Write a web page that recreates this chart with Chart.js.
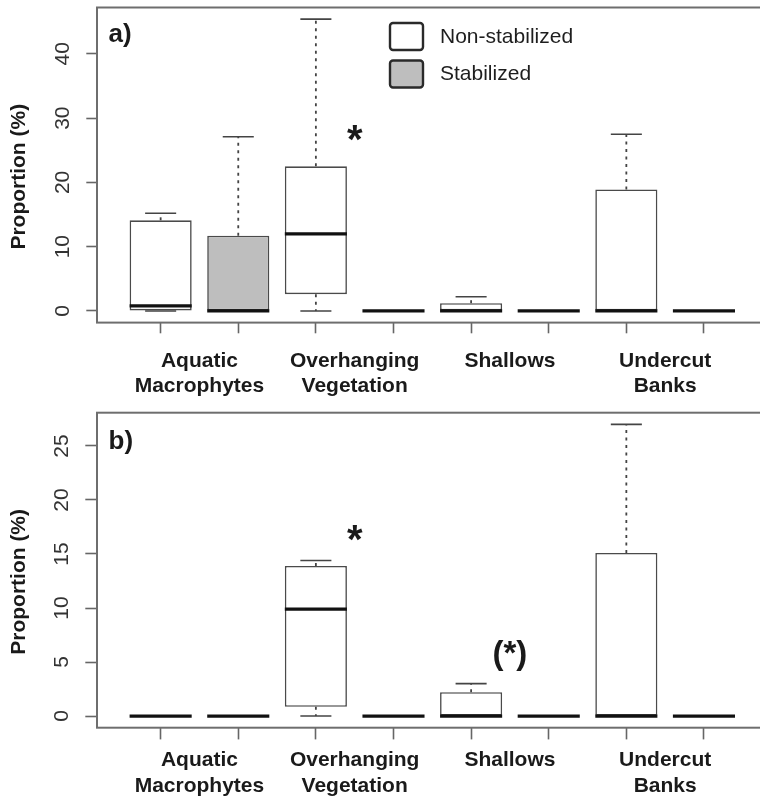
<!DOCTYPE html>
<html>
<head>
<meta charset="utf-8">
<title>Proportion of habitat types</title>
<script src="https://cdn.jsdelivr.net/npm/chart.js@4.4.1/dist/chart.umd.min.js"></script>
<style>
  html, body { margin: 0; padding: 0; background: #fff; width: 760px; height: 799px; overflow: hidden; }
  .panel { position: absolute; left: 0; }
  canvas { display: block; }
</style>
</head>
<body>
<div class="panel" style="top:0"><canvas id="panelA" width="780" height="400"></canvas></div>
<div class="panel" style="top:400px"><canvas id="panelB" width="780" height="399"></canvas></div>
<script>
const FONT = "'Liberation Sans', Arial, Helvetica, sans-serif";

// Habitat categories (two-line axis labels) and the two bank treatments
const habitats = [['Aquatic', 'Macrophytes'], ['Overhanging', 'Vegetation'], ['Shallows'], ['Undercut', 'Banks']];
const groups = ['Non-stabilized', 'Stabilized'];

// Panel a) box summaries per habitat
const aNonMin = [0, 0, 0, 0];
const aNonQ1 = [0, 2.6, 0, 0];
const aNonMed = [0.8, 12.0, 0, 0];
const aNonQ3 = [14.1, 22.5, 1.2, 18.9];
const aNonMax = [15.2, 45.4, 2.2, 27.5];
const aStabMin = [0, 0, 0, 0];
const aStabQ1 = [0, 0, 0, 0];
const aStabMed = [0, 0, 0, 0];
const aStabQ3 = [11.7, 0, 0, 0];
const aStabMax = [27.1, 0, 0, 0];

// Panel b) box summaries per habitat
const bNonMin = [0, 0, 0, 0];
const bNonQ1 = [0, 0.85, 0, 0];
const bNonMed = [0, 9.9, 0, 0];
const bNonQ3 = [0, 13.9, 2.2, 15.1];
const bNonMax = [0, 14.4, 3.0, 27.0];
const bStabMin = [0, 0, 0, 0];
const bStabQ1 = [0, 0, 0, 0];
const bStabMed = [0, 0, 0, 0];
const bStabQ3 = [0, 0, 0, 0];
const bStabMax = [0, 0, 0, 0];

// Y tick labels
const aTicks = [0, 10, 20, 30, 40];
const bTicks = [0, 5, 10, 15, 20, 25];

// Significance marks: text, habitat index, height (data units)
const aMarkText = ['*'];
const aMarkHabitat = [1];
const aMarkY = [26.3];
const bMarkText = ['*', '(*)'];
const bMarkHabitat = [1, 2];
const bMarkY = [16.1, 5.7];

const FILL = ['#ffffff', '#bebebe'];
const BOX_LINE = '#4a4a4a';

// Draws whiskers, staples, medians, the plot frame, panel tag, marks and legend
const boxplotParts = {
  id: 'boxplotParts',
  beforeDatasetsDraw(chart) {
    const { ctx, scales: { y } } = chart;
    ctx.save();
    ctx.strokeStyle = '#444';
    chart.data.datasets.forEach((ds, di) => {
      const s = ds.stats;
      chart.getDatasetMeta(di).data.forEach((bar, i) => {
        const yMin = y.getPixelForValue(s.min[i]);
        const yQ1 = y.getPixelForValue(s.q1[i]);
        const yQ3 = y.getPixelForValue(s.q3[i]);
        const yMax = y.getPixelForValue(s.max[i]);
        const cap = bar.width / 4;
        ctx.lineWidth = 1.8;
        ctx.setLineDash([3, 4.5]);
        ctx.beginPath();
        ctx.moveTo(bar.x, yQ3); ctx.lineTo(bar.x, yMax);
        ctx.moveTo(bar.x, yQ1); ctx.lineTo(bar.x, yMin);
        ctx.stroke();
        ctx.setLineDash([]);
        ctx.lineWidth = 1.6;
        ctx.beginPath();
        ctx.moveTo(bar.x - cap, yMax); ctx.lineTo(bar.x + cap, yMax);
        ctx.moveTo(bar.x - cap, yMin); ctx.lineTo(bar.x + cap, yMin);
        ctx.stroke();
      });
    });
    ctx.restore();
  },
  afterDatasetsDraw(chart, args, opts) {
    const { ctx, chartArea: area, scales: { x, y } } = chart;
    ctx.save();
    // medians
    ctx.strokeStyle = '#111';
    ctx.lineWidth = 3.2;
    chart.data.datasets.forEach((ds, di) => {
      const s = ds.stats;
      chart.getDatasetMeta(di).data.forEach((bar, i) => {
        const ym = y.getPixelForValue(s.med[i]);
        ctx.beginPath();
        ctx.moveTo(bar.x - bar.width / 2, ym);
        ctx.lineTo(bar.x + bar.width / 2, ym);
        ctx.stroke();
      });
    });
    // frame
    ctx.strokeStyle = '#6e6e6e';
    ctx.lineWidth = 2;
    ctx.strokeRect(area.left, area.top, area.right - area.left, area.bottom - area.top);
    // panel tag
    ctx.fillStyle = '#1a1a1a';
    ctx.font = `bold 26px ${FONT}`;
    ctx.textAlign = 'left';
    ctx.textBaseline = 'alphabetic';
    ctx.fillText(opts.tag, area.left + 11.5, area.top + opts.tagDrop);
    // significance marks, centred between the paired boxes
    ctx.textAlign = 'center';
    ctx.textBaseline = 'middle';
    opts.markText.forEach((t, k) => {
      ctx.font = t === '*' ? `bold 40px ${FONT}` : `bold 33px ${FONT}`;
      const px = x.getPixelForValue(2 * opts.markHabitat[k] + 1.5);
      const py = y.getPixelForValue(opts.markY[k]);
      ctx.fillText(t, px, py);
    });
    // legend
    if (opts.legend) {
      const L = opts.legend;
      ctx.font = `21px ${FONT}`;
      ctx.textAlign = 'left';
      ctx.textBaseline = 'middle';
      chart.data.datasets.forEach((ds, di) => {
        const top = L.y + di * L.step;
        ctx.fillStyle = ds.backgroundColor;
        ctx.strokeStyle = '#2a2a2a';
        ctx.lineWidth = 2.4;
        ctx.beginPath();
        ctx.roundRect(L.x, top, L.w, L.h, 3);
        ctx.fill();
        ctx.stroke();
        ctx.fillStyle = '#1e1e1e';
        ctx.fillText(ds.label, L.textX, top + L.h / 2 + 0.5);
      });
    }
    ctx.restore();
  }
};

function summary(min, q1, med, q3, max) {
  return { min, q1, med, q3, max };
}

// Fixes an axis' thickness and drops the label overhang padding
function fixSize(prop, size) {
  return s => {
    s[prop] = size;
    s.paddingTop = 0; s.paddingBottom = 0; s.paddingLeft = 0; s.paddingRight = 0;
  };
}

function buildPanel(id, p) {
  const all = [].concat(p.non.max, p.stab.max, p.non.min, p.stab.min);
  const lo = Math.min(...all), hi = Math.max(...all);
  const ext = 0.04 * (hi - lo);
  const xMin = 0.5 - 0.04 * 8, xMax = 8.5 + 0.04 * 8;
  const tickGrid = {
    drawOnChartArea: false, drawTicks: true, tickLength: p.tickLen,
    tickColor: '#666', tickWidth: 1.6, offset: false
  };
  return new Chart(document.getElementById(id), {
    type: 'bar',
    data: {
      datasets: [p.non, p.stab].map((s, g) => ({
        label: groups[g],
        data: habitats.map((h, i) => ({ x: 2 * i + 1 + g, y: [s.q1[i], s.q3[i]] })),
        stats: s,
        backgroundColor: FILL[g],
        borderColor: BOX_LINE,
        borderWidth: 1.6,
        borderSkipped: false,
        grouped: false,
        categoryPercentage: 1,
        barPercentage: 0.8
      }))
    },
    options: {
      responsive: false,
      animation: false,
      devicePixelRatio: 1,
      events: [],
      layout: { padding: { left: 0, top: p.padTop, right: 12.4, bottom: 0 } },
      scales: {
        x: {
          type: 'linear', position: 'bottom', weight: 0, offset: false,
          min: xMin, max: xMax, bounds: 'data',
          afterBuildTicks: s => { s.ticks = [1, 2, 3, 4, 5, 6, 7, 8].map(v => ({ value: v })); },
          afterFit: fixSize('height', p.tickLen),
          grid: tickGrid,
          border: { display: false },
          ticks: { display: false, autoSkip: false }
        },
        xLab: {
          type: 'linear', position: 'bottom', weight: 1, offset: false,
          min: xMin, max: xMax, bounds: 'data',
          afterBuildTicks: s => { s.ticks = habitats.map((h, i) => ({ value: 2 * i + 1.5 })); },
          afterFit: fixSize('height', p.labelAxisH),
          grid: { display: false, offset: false },
          border: { display: false },
          ticks: {
            autoSkip: false, maxRotation: 0, minRotation: 0,
            padding: p.labelPad, color: '#1a1a1a',
            font: { family: FONT, size: 21, weight: 'bold', lineHeight: 1.2 },
            callback: (v, i) => habitats[i]
          }
        },
        y: {
          type: 'linear', position: 'left',
          min: lo - ext, max: hi + ext, bounds: 'data',
          afterBuildTicks: s => { s.ticks = p.ticks.map(v => ({ value: v })); },
          afterFit: fixSize('width', 97),
          grid: tickGrid,
          border: { display: false },
          ticks: {
            minRotation: 90, maxRotation: 90, crossAlign: 'center',
            padding: 11.6, color: '#333',
            font: { family: FONT, size: 21 },
            callback: v => String(v)
          },
          title: {
            display: true, text: 'Proportion (%)    ', color: '#1a1a1a',
            font: { family: FONT, size: 21, weight: 'bold', lineHeight: 1.2 },
            padding: { top: 7, bottom: 0 }
          }
        }
      },
      plugins: {
        legend: { display: false },
        tooltip: { enabled: false },
        boxplotParts: {
          tag: p.tag, tagDrop: p.tagDrop,
          markText: p.markText, markHabitat: p.markHabitat, markY: p.markY,
          legend: p.legend
        }
      }
    },
    plugins: [boxplotParts]
  });
}

buildPanel('panelA', {
  non: summary(aNonMin, aNonQ1, aNonMed, aNonQ3, aNonMax),
  stab: summary(aStabMin, aStabQ1, aStabMed, aStabQ3, aStabMax),
  ticks: aTicks,
  markText: aMarkText, markHabitat: aMarkHabitat, markY: aMarkY,
  tag: 'a)', tagDrop: 34.2,
  padTop: 7.5, tickLen: 10.7, labelAxisH: 66.7, labelPad: 7.1,
  legend: { x: 390, y: 23, w: 33, h: 27, step: 37.5, textX: 440 }
});

buildPanel('panelB', {
  non: summary(bNonMin, bNonQ1, bNonMed, bNonQ3, bNonMax),
  stab: summary(bStabMin, bStabQ1, bStabMed, bStabQ3, bStabMax),
  ticks: bTicks,
  markText: bMarkText, markHabitat: bMarkHabitat, markY: bMarkY,
  tag: 'b)', tagDrop: 36.6,
  padTop: 12.7, tickLen: 11.7, labelAxisH: 59.6, labelPad: 0.6,
  legend: null
});
</script>
</body>
</html>
